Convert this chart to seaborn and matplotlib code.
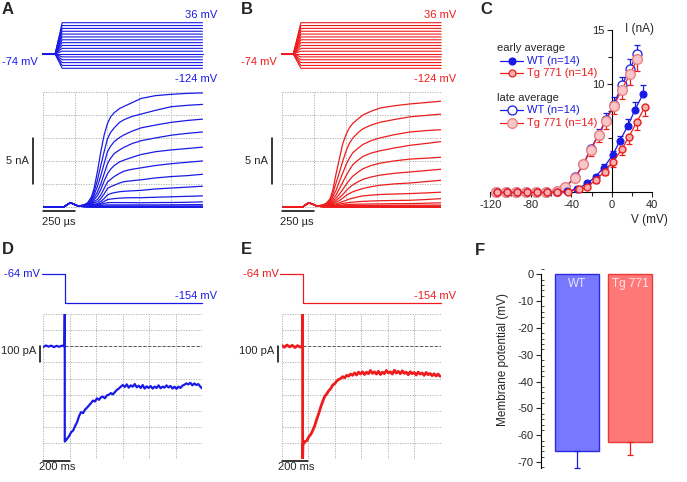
"""
plot.py - K+ current recordings, WT vs Tg 771 (six panels A-F).
"""

import numpy as np
import pandas as pd
import matplotlib
matplotlib.use("Agg")
import matplotlib.pyplot as plt
import seaborn as sns
from matplotlib.lines import Line2D
from matplotlib.ticker import MultipleLocator, FixedLocator, NullFormatter

sns.set_style("white")
plt.rcParams["font.family"] = ["Liberation Sans", "DejaVu Sans"]
plt.rcParams["font.size"] = 8
plt.rcParams["axes.unicode_minus"] = False

BLUE = "#1a1ae6"
RED = "#ee1c1c"
GRID = "#a8a8a8"

# ── A / B : voltage protocol and outward currents ────────────────────────────
HOLD_MV = -74
STEP_MV = [-124, -114, -104, -94, -84, -74, -64, -54, -44, -34, -24, -14, -4, 6, 16, 26, 36]

TRACE_T_US = [0, 165, 195, 215, 240, 275,
              320, 350, 380, 400, 426, 453, 479, 505, 530, 558, 600, 637, 700, 769, 880, 1005, 1130, 1250]
ONSET_NA = [0, 0, 0.3, 0.45, 0.3, 0.1]   # capacitive blip, common to all sweeps

WT_TRACES = [
    [0.2, 0.45, 1.1, 2.0, 3.8, 6.0, 7.8, 9.06, 9.8, 10.25, 10.7, 10.95, 11.35, 11.8, 12.1, 12.25, 12.35, 12.4],
    [0.2, 0.4, 0.9, 1.6, 2.9, 4.5, 6.0, 7.4, 8.1, 8.6, 9.2, 9.5, 9.85, 10.1, 10.5, 10.9, 11.05, 11.15],
    [0.2, 0.35, 0.75, 1.3, 2.2, 3.4, 4.7, 6.0, 6.6, 7.1, 7.55, 7.85, 8.25, 8.6, 8.9, 9.2, 9.4, 9.55],
    [0.15, 0.3, 0.6, 1.0, 1.6, 2.5, 3.6, 4.7, 5.3, 5.8, 6.2, 6.5, 6.9, 7.2, 7.5, 7.8, 8.0, 8.15],
    [0.15, 0.25, 0.5, 0.8, 1.2, 1.9, 2.8, 3.6, 4.1, 4.5, 4.9, 5.1, 5.4, 5.7, 6.0, 6.2, 6.35, 6.5],
    [0.12, 0.2, 0.4, 0.6, 0.8, 1.3, 2.0, 2.7, 3.0, 3.3, 3.65, 3.9, 4.1, 4.25, 4.5, 4.7, 4.85, 5.0],
    [0.1, 0.18, 0.3, 0.45, 0.55, 0.9, 1.4, 2.0, 2.2, 2.35, 2.6, 2.75, 2.85, 2.95, 3.15, 3.3, 3.4, 3.55],
    [0.1, 0.15, 0.22, 0.3, 0.35, 0.6, 0.9, 1.3, 1.45, 1.55, 1.65, 1.7, 1.75, 1.8, 1.95, 2.05, 2.15, 2.25],
    [0.1, 0.12, 0.18, 0.22, 0.25, 0.4, 0.6, 0.8, 0.85, 0.9, 0.95, 0.98, 1.0, 1.0, 1.05, 1.1, 1.15, 1.2],
    [0.1, 0.1, 0.14, 0.17, 0.2, 0.28, 0.38, 0.45, 0.47, 0.47, 0.47, 0.47, 0.46, 0.45, 0.47, 0.48, 0.5, 0.55],
    [0.08, 0.08, 0.1, 0.12, 0.14, 0.17, 0.2, 0.22, 0.22, 0.22, 0.22, 0.22, 0.22, 0.22, 0.22, 0.23, 0.24, 0.25],
    [0.06, 0.06, 0.07, 0.08, 0.08, 0.09, 0.1, 0.1, 0.1, 0.1, 0.1, 0.1, 0.1, 0.1, 0.1, 0.1, 0.1, 0.1],
    [0.04, 0.03, 0.03, 0.03, 0.03, 0.03, 0.03, 0.03, 0.03, 0.03, 0.03, 0.03, 0.03, 0.03, 0.03, 0.03, 0.03, 0.03],
    [0.02, 0.0, 0.0, 0.0, 0.0, 0.0, 0.0, 0.0, 0.0, 0.0, 0.0, 0.0, 0.0, 0.0, 0.0, 0.0, 0.0, 0.0],
    [0.0, -0.03, -0.04, -0.05, -0.05, -0.05, -0.05, -0.05, -0.05, -0.05, -0.05, -0.05, -0.05, -0.05, -0.05, -0.05, -0.05, -0.05],
]

TG_TRACES = [
    [0.2, 0.4, 0.9, 1.8, 3.6, 5.3, 6.9, 7.9, 8.6, 9.1, 9.6, 10.0, 10.4, 10.75, 11.0, 11.2, 11.35, 11.5],
    [0.2, 0.35, 0.75, 1.4, 2.6, 3.8, 5.0, 6.1, 6.9, 7.5, 8.1, 8.5, 8.9, 9.2, 9.5, 9.8, 9.95, 10.1],
    [0.18, 0.3, 0.6, 1.1, 1.8, 2.8, 3.7, 4.6, 5.3, 5.9, 6.4, 6.8, 7.2, 7.5, 7.85, 8.15, 8.3, 8.4],
    [0.15, 0.25, 0.5, 0.8, 1.3, 2.0, 2.7, 3.4, 4.0, 4.6, 5.1, 5.5, 5.85, 6.1, 6.4, 6.7, 6.9, 7.1],
    [0.12, 0.2, 0.4, 0.6, 0.95, 1.4, 1.9, 2.45, 2.9, 3.35, 3.8, 4.15, 4.5, 4.75, 5.0, 5.2, 5.3, 5.4],
    [0.1, 0.18, 0.3, 0.45, 0.7, 1.0, 1.35, 1.75, 2.1, 2.4, 2.75, 3.0, 3.25, 3.45, 3.65, 3.8, 3.95, 4.1],
    [0.1, 0.15, 0.25, 0.35, 0.5, 0.7, 0.95, 1.25, 1.45, 1.65, 1.85, 2.0, 2.2, 2.35, 2.5, 2.6, 2.75, 2.9],
    [0.08, 0.12, 0.18, 0.25, 0.32, 0.45, 0.58, 0.72, 0.85, 0.95, 1.1, 1.2, 1.28, 1.35, 1.4, 1.45, 1.52, 1.6],
    [0.06, 0.1, 0.14, 0.18, 0.22, 0.3, 0.37, 0.43, 0.48, 0.52, 0.57, 0.6, 0.64, 0.67, 0.7, 0.72, 0.8, 0.9],
    [0.05, 0.08, 0.1, 0.12, 0.15, 0.18, 0.21, 0.25, 0.27, 0.28, 0.3, 0.3, 0.32, 0.33, 0.35, 0.36, 0.4, 0.45],
    [0.04, 0.06, 0.07, 0.08, 0.09, 0.1, 0.11, 0.12, 0.13, 0.14, 0.15, 0.15, 0.16, 0.17, 0.18, 0.18, 0.19, 0.2],
    [0.03, 0.04, 0.05, 0.06, 0.06, 0.07, 0.07, 0.08, 0.08, 0.08, 0.09, 0.09, 0.09, 0.1, 0.1, 0.1, 0.1, 0.1],
    [0.03, 0.03, 0.03, 0.03, 0.03, 0.03, 0.03, 0.03, 0.03, 0.03, 0.03, 0.03, 0.03, 0.03, 0.03, 0.03, 0.03, 0.03],
    [0.01, 0.0, 0.0, 0.0, 0.0, 0.0, 0.0, 0.0, 0.0, 0.0, 0.0, 0.0, 0.0, 0.0, 0.0, 0.0, 0.0, 0.0],
    [0.0, -0.03, -0.04, -0.05, -0.05, -0.05, -0.05, -0.05, -0.05, -0.05, -0.05, -0.05, -0.05, -0.05, -0.05, -0.05, -0.05, -0.05],
]

# ── C : I-V relation ─────────────────────────────────────────────────────────
V_EARLY_WT = [-114, -104, -94, -84, -74, -64, -54, -44, -34, -24, -16, -8, 1, 8, 16, 23, 31]
I_EARLY_WT = [0, 0, 0, 0, 0, 0, 0.02, 0.1, 0.35, 0.85, 1.46, 2.29, 3.46, 4.76, 6.17, 7.62, 9.1]
SEM_EARLY_WT = [0, 0, 0, 0, 0, 0, 0, 0.05, 0.1, 0.15, 0.2, 0.3, 0.4, 0.5, 0.6, 0.75, 0.8]
V_EARLY_TG = [-114, -104, -94, -84, -74, -64, -54, -43, -32, -24, -16, -7, 1, 10, 17, 25, 33]
I_EARLY_TG = [0, 0, 0, 0, 0, 0, 0.02, 0.08, 0.3, 0.54, 1.15, 1.92, 2.84, 3.99, 5.15, 6.54, 7.92]
SEM_EARLY_TG = [0, 0, 0, 0, 0, 0, 0, 0.05, 0.1, 0.15, 0.25, 0.35, 0.45, 0.55, 0.65, 0.75, 0.85]

V_LATE = [-115, -105, -95, -85, -75, -65, -54, -46, -36, -28, -21, -13, -6, 2, 10, 18, 25]
I_LATE_WT = [0, 0, 0, 0, 0, 0.02, 0.17, 0.54, 1.4, 2.65, 4.0, 5.35, 6.7, 8.1, 9.9, 11.4, 12.8]
SEM_LATE_WT = [0, 0, 0, 0, 0, 0, 0.05, 0.1, 0.15, 0.3, 0.4, 0.5, 0.6, 0.7, 0.8, 0.9, 0.8]
I_LATE_TG = [0, 0, 0, 0, 0, 0.02, 0.15, 0.5, 1.37, 2.6, 3.9, 5.3, 6.6, 8.0, 9.5, 10.9, 12.3]
SEM_LATE_TG = [0, 0, 0, 0, 0, 0, 0.05, 0.1, 0.2, 0.3, 0.5, 0.6, 0.7, 0.8, 0.9, 1.0, 1.1]

# ── D / E : hyperpolarising step, inward current ─────────────────────────────
D_HOLD_T = [0, 20, 40, 60, 80, 100, 120, 140, 160]
D_HOLD_PA = [-4, 5, -2, 4, -5, 3, -3, 4, 0]
D_STEP_MS = 162
D_SPIKE_PA = [200, -590]
D_POST_T = list(range(165, 1201, 15))
D_POST_PA = [
    -588, -572, -556, -532, -522, -494, -470, -432, -408, -414,
    -392, -380, -366, -352, -336, -342, -322, -332, -316, -312,
    -322, -304, -300, -290, -298, -284, -270, -262, -250, -240,
    -252, -236, -256, -242, -250, -234, -254, -244, -258, -240,
    -262, -248, -258, -246, -262, -250, -258, -242, -260, -250,
    -256, -242, -255, -246, -262, -250, -264, -250, -258, -244,
    -238, -230, -236, -226, -242, -230, -240, -234, -250, -262,
]

E_HOLD_T = [0, 20, 40, 60, 80, 100, 120, 140, 155]
E_HOLD_PA = [5, -6, 8, -4, 6, -8, 4, -5, 2]
E_STEP_MS = 158
E_SPIKE_PA = [200, -700]
E_POST_T = list(range(160, 1196, 15))
E_POST_PA = [
    -610, -590, -585, -560, -545, -520, -490, -450, -415, -375,
    -340, -310, -295, -275, -262, -240, -232, -215, -205, -200,
    -188, -195, -180, -185, -172, -180, -165, -178, -160, -172,
    -158, -175, -160, -170, -150, -168, -158, -172, -155, -175,
    -160, -170, -150, -165, -158, -172, -148, -166, -155, -170,
    -152, -168, -160, -176, -158, -170, -162, -178, -160, -172,
    -165, -180, -162, -176, -168, -182, -170, -184, -172, -186,
]
CMD_HOLD_MV = -64
CMD_STEP_MV = -154

# ── F : resting membrane potential ───────────────────────────────────────────
GROUPS = ["WT", "Tg 771"]
VM_MEAN = [-66.0, -62.5]
VM_SEM = [6.2, 4.8]

# ── Layout helpers (pixel coordinates, origin top-left) ──────────────────────
W, H = 687, 482
fig = plt.figure(figsize=(W / 100, H / 100), dpi=100)


def add_box(x0, y0, x1, y1):
    return fig.add_axes([x0 / W, 1 - y1 / H, (x1 - x0) / W, (y1 - y0) / H])


def label(x, y, s, **kw):
    kw.setdefault("fontsize", 8)
    kw.setdefault("va", "center")
    fig.text(x / W, 1 - y / H, s, **kw)


def grid_box(ax, xt, yt):
    for s in ax.spines.values():
        s.set_visible(False)
    ax.set_facecolor("none")
    ax.set_xticks(xt)
    ax.set_yticks(yt)
    ax.tick_params(length=0, labelbottom=False, labelleft=False)
    ax.grid(True, color=GRID, ls=(0, (1.5, 1.5)), lw=0.6)
    ax.set_xlabel("")
    ax.set_ylabel("")


def sweeps_frame(t, sweeps):
    rows = []
    for k, vals in enumerate(sweeps):
        for ti, v in zip(t, ONSET_NA + vals):
            rows.append((k, ti, v))
    return pd.DataFrame(rows, columns=["sweep", "t", "i"])


def step_panel(x0, color, sweeps, step_on, step_set, tag):
    x1 = x0 + 159.5
    # protocol
    ax_v = add_box(x0, 22.7, x1, 68.3)
    ax_v.set_axis_off()
    ax_v.set_xlim(0, 1250)
    ax_v.set_ylim(-124, 36)
    for v in STEP_MV:
        ax_v.plot([0, step_on, step_set, 1250], [HOLD_MV, HOLD_MV, v, v],
                  color=color, lw=0.8, clip_on=False)
    label(x0 - 5, 62, "-74 mV", color=color, ha="right")
    label(x1 + 15, 15, "36 mV", color=color, ha="right")
    label(x1 + 15, 79, "-124 mV", color=color, ha="right")

    # currents
    ax_i = add_box(x0, 92, x1, 208)
    df = sweeps_frame(TRACE_T_US, sweeps)
    sns.lineplot(data=df, x="t", y="i", units="sweep", estimator=None, sort=False,
                 color=color, lw=0.9, legend=False, ax=ax_i)
    ax_i.set_xlim(0, 1250)
    ax_i.set_ylim(-0.12, 12.5)
    grid_box(ax_i, [0, 250, 500, 750, 1000, 1250], [0, 2.5, 5, 7.5, 10, 12.5])
    # scale bars
    ax_i.plot([-75, -75], [2.5, 7.5], color="k", lw=1.1, clip_on=False)
    ax_i.plot([0, 250], [-0.42, -0.42], color="k", lw=1.1, clip_on=False)
    label(x0 - 14, 161, "5 nA", ha="right")
    label(x0 + 15.5, 222, "250 µs", ha="center")
    label(x0 - 41, 10, tag, fontsize=12, fontweight="bold")


def ramp_panel(x0, color, hold_t, hold_pa, step, spike, post_t, post_pa, tag, lw):
    x1 = x0 + 159
    ax_v = add_box(x0, 274, x1, 303.3)
    ax_v.set_axis_off()
    ax_v.set_xlim(0, 1200)
    ax_v.set_ylim(CMD_STEP_MV, CMD_HOLD_MV)
    ax_v.plot([hold_t[0] - 10, step, step, 1200],
              [CMD_HOLD_MV, CMD_HOLD_MV, CMD_STEP_MV, CMD_STEP_MV],
              color=color, lw=0.9, clip_on=False)
    label(x0 - 3, 274, "-64 mV", color=color, ha="right")
    label(x1 + 15, 296, "-154 mV", color=color, ha="right")

    ax_i = add_box(x0, 314, x1, 459.3)
    t = hold_t + [step, step] + post_t
    y = hold_pa + spike + post_pa
    df = pd.DataFrame({"t": t, "i": y})
    ax_i.hlines(0, step, 1200, color="#555555", ls=(0, (3, 2)), lw=0.7)
    sns.lineplot(data=df, x="t", y="i", sort=False, estimator=None,
                 color=color, lw=lw, ax=ax_i)
    ax_i.set_xlim(0, 1200)
    ax_i.set_ylim(-700, 200)
    grid_box(ax_i, list(range(0, 1201, 200)), list(range(-700, 201, 100)))
    ax_i.plot([-25, -25], [0, -100], color="k", lw=1.1, clip_on=False)
    ax_i.plot([0, 200], [-710, -710], color="k", lw=1.1, clip_on=False)
    label(x0 - 7, 351, "100 pA", ha="right")
    label(x0 + 14, 467, "200 ms", ha="center")
    label(x0 - 41, 249, tag, fontsize=12, fontweight="bold")


step_panel(43, BLUE, WT_TRACES, 95, 150, "A")
step_panel(281.7, RED, TG_TRACES, 91, 150, "B")
ramp_panel(43.3, BLUE, D_HOLD_T, D_HOLD_PA, D_STEP_MS, D_SPIKE_PA, D_POST_T, D_POST_PA, "D", 1.6)
ramp_panel(281.7, RED, E_HOLD_T, E_HOLD_PA, E_STEP_MS, E_SPIKE_PA, E_POST_T, E_POST_PA, "E", 2.0)

# ── C ────────────────────────────────────────────────────────────────────────
axC = add_box(485.4, 24.6, 657.2, 197.9)
axC.set_xlim(-125, 45)
axC.set_ylim(-0.5, 15.5)
axC.set_facecolor("none")

late_tg_fill, late_tg_edge = "#f7c6c6", "#ec8080"
early_tg_fill = "#f6b0b0"

def iv_series(v, i, sem, up, color, mfc, mec, ms, mew, z):
    lower = [0] * len(sem) if up else sem
    upper = sem if up else [0] * len(sem)
    axC.errorbar(v, i, yerr=[lower, upper], fmt="none", ecolor=color,
                 elinewidth=0.9, capsize=2, capthick=0.9, zorder=z, clip_on=False)
    axC.plot(v, i, color=color, lw=0.9, marker="o", ms=ms, mfc=mfc, mec=mec,
             mew=mew, zorder=z + 0.5, clip_on=False)

iv_series(V_LATE, I_LATE_WT, SEM_LATE_WT, True, BLUE, "white", BLUE, 6.5, 0.9, 3)
iv_series(V_LATE, I_LATE_TG, SEM_LATE_TG, False, RED, late_tg_fill, late_tg_edge, 7, 1.0, 4)
iv_series(V_EARLY_WT, I_EARLY_WT, SEM_EARLY_WT, True, BLUE, BLUE, BLUE, 5, 0.8, 5)
iv_series(V_EARLY_TG, I_EARLY_TG, SEM_EARLY_TG, False, RED, early_tg_fill, RED, 5, 1.0, 6)

for side in ("top", "right"):
    axC.spines[side].set_visible(False)
axC.spines["left"].set_position(("data", 0))
axC.spines["bottom"].set_position(("data", 0))
axC.spines["left"].set_bounds(0, 15)
axC.spines["bottom"].set_bounds(-120, 40)
for side in ("left", "bottom"):
    axC.spines[side].set_linewidth(0.8)
    axC.spines[side].set_color("black")
axC.xaxis.set_major_locator(FixedLocator([-120, -80, -40, 0, 40]))
axC.xaxis.set_minor_locator(FixedLocator([-100, -60, -20, 20]))
axC.yaxis.set_major_locator(FixedLocator([10, 15]))
axC.yaxis.set_minor_locator(FixedLocator([2.5, 5, 7.5, 12.5]))
axC.tick_params(which="major", direction="out", length=3.5, width=0.8, pad=2, labelsize=8)
axC.tick_params(which="minor", direction="out", length=3, width=0.8)
axC.tick_params(axis="both", which="both", bottom=True, left=True)
label(625, 29, "I (nA)", fontsize=8.5)
label(631, 220, "V (mV)", fontsize=8.5)
label(480, 10, "C", fontsize=12, fontweight="bold")

# legend (drawn by hand to keep the layout of the original)
label(497, 48, "early average", fontsize=8)
label(497, 98, "late average", fontsize=8)
legend_rows = [
    (61, BLUE, BLUE, BLUE, 5, "WT (n=14)"),
    (73, RED, early_tg_fill, RED, 5, "Tg 771 (n=14)"),
    (110, BLUE, "white", BLUE, 6.5, "WT (n=14)"),
    (123, RED, late_tg_fill, late_tg_edge, 7, "Tg 771 (n=14)"),
]
for y, col, mfc, mec, ms, txt in legend_rows:
    fig.add_artist(Line2D([500 / W, 511.5 / W, 523 / W], [1 - y / H] * 3,
                          color=col, lw=0.9, marker="o", markevery=[1],
                          ms=ms, mfc=mfc, mec=mec, mew=0.9))
    label(527, y, txt, color=col, fontsize=8)

# ── F ────────────────────────────────────────────────────────────────────────
axF = add_box(540.7, 268, 665, 468)
sns.barplot(x=GROUPS, y=VM_MEAN, hue=GROUPS, palette=["#7878ff", "#ff7878"],
            width=0.825, saturation=1, errorbar=None, legend=False, ax=axF)
for patch, ec in zip(axF.patches, ["#2b2be6", "#e63c3c"]):
    patch.set_edgecolor(ec)
    patch.set_linewidth(1.0)
for k, (m, s, col) in enumerate(zip(VM_MEAN, VM_SEM, [BLUE, RED])):
    axF.errorbar([k], [m], yerr=[[s], [0]], fmt="none", ecolor=col,
                 elinewidth=0.9, capsize=2.2, capthick=0.9, clip_on=False)
axF.set_xlim(-0.681, 1.65)
axF.set_ylim(-72.2, 2.35)
axF.set_facecolor("none")
for side in ("top", "right", "bottom"):
    axF.spines[side].set_visible(False)
axF.spines["left"].set_bounds(-72.2, 0)
axF.spines["left"].set_linewidth(0.8)
axF.spines["left"].set_color("black")
axF.set_xticks([])
axF.yaxis.set_major_locator(MultipleLocator(10))
axF.yaxis.set_minor_locator(MultipleLocator(2))
axF.tick_params(axis="y", which="major", direction="out", length=3.5, width=0.8,
                pad=1.5, labelsize=8, left=True)
axF.tick_params(axis="y", which="minor", direction="in", length=2, width=0.6, left=True)
axF.set_ylabel("Membrane potential (mV)", fontsize=8.5)
axF.yaxis.set_label_coords(-0.255, 0.54)
for k, name in enumerate(GROUPS):
    axF.text(k, -1.4, name, ha="center", va="top", fontsize=8.5,
             color="#e6e6ff" if k == 0 else "#ffe6e6")
label(475, 250, "F", fontsize=12, fontweight="bold")

fig.savefig("out.png", dpi=100)
